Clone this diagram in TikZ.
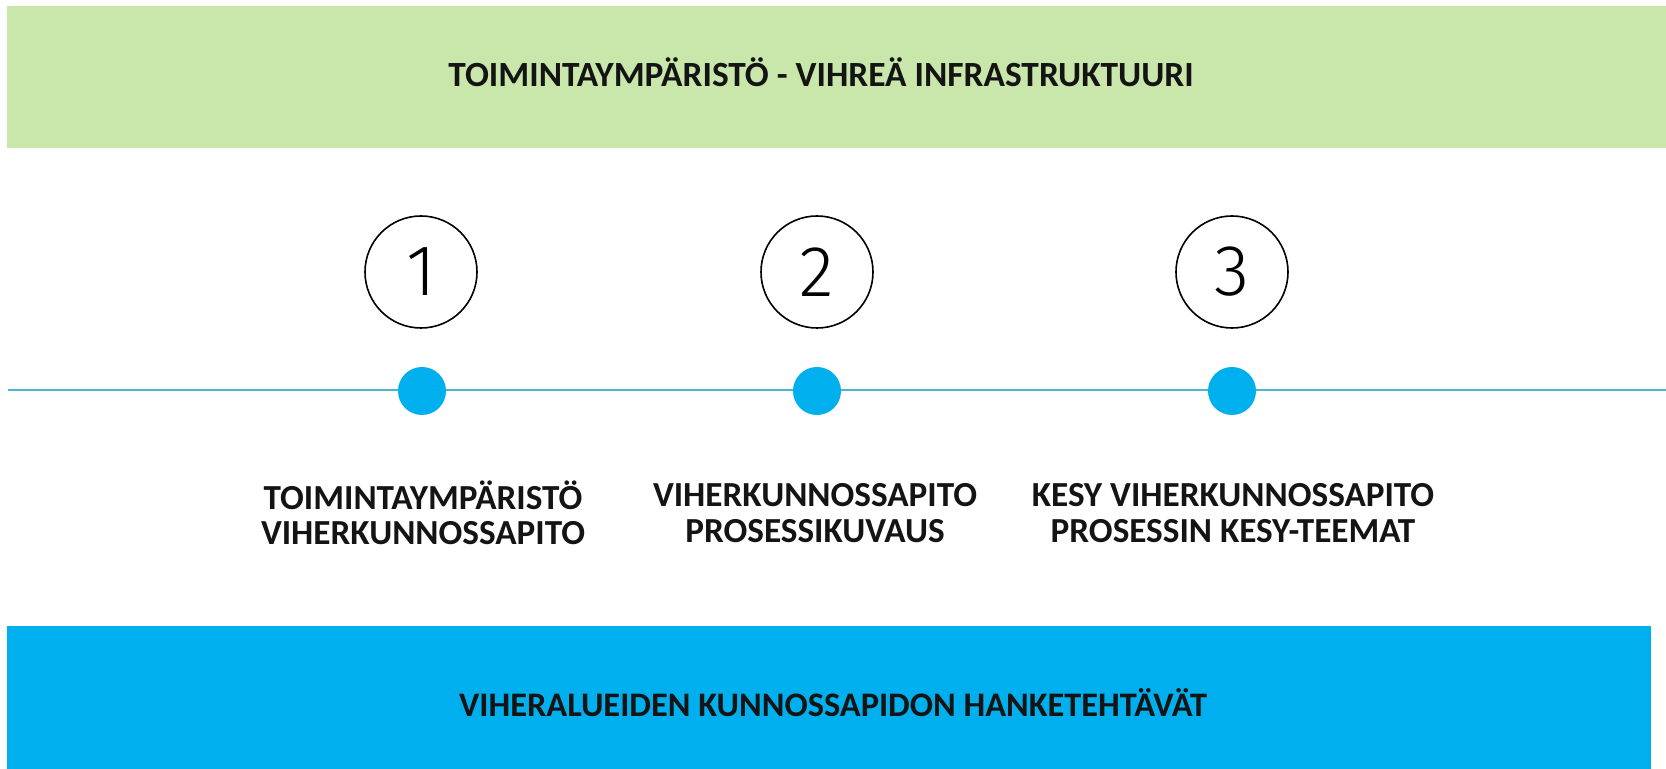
\documentclass[tikz,border=0pt]{standalone}
\usepackage{fontspec}
\setmainfont{Carlito}
\newfontfamily\numfont{Fira Sans Light}
\usepackage{tikz}
\usepackage{xcolor}

\definecolor{bandgreen}{HTML}{C9E6AB}
\definecolor{bandblue}{HTML}{00B0EE}
\definecolor{linecyan}{HTML}{4DB6CC}
\definecolor{textdark}{HTML}{141414}

\begin{document}
\begin{tikzpicture}[x=0.5pt, y=-0.5pt]

        \useasboundingbox (0, 0) rectangle (1666, 769);

        \coordinate(G1) at (7, 6);
        \coordinate(G2) at (1666, 148);
        \coordinate(B1) at (7, 626);
        \coordinate(B2) at (1651, 769);
        \coordinate(L1) at (8, 390);
        \coordinate(L2) at (1666, 390);
        \fill[bandgreen] (G1) rectangle (G2);
        \fill[bandblue] (B1) rectangle (B2);
        \draw[linecyan, line width=0.7pt] (L1) -- (L2);

        \node[textdark, font=\bfseries\fontsize{17.7}{20}\selectfont] (top) at (821, 72) {TOIMINTAYMPÄRISTÖ - VIHREÄ INFRASTRUKTUURI};
        \node[textdark, font=\bfseries\fontsize{17.2}{20}\selectfont] (bottom) at (833, 703) {VIHERALUEIDEN KUNNOSSAPIDON HANKETEHTÄVÄT};

        \node[circle, draw, line width=0.8pt, minimum size=56pt, inner sep=0pt, font=\numfont\fontsize{36}{36}\selectfont] (n1) at (421, 272) {1};
        \node[circle, draw, line width=0.8pt, minimum size=56pt, inner sep=0pt, font=\numfont\fontsize{36}{36}\selectfont] (n2) at (817, 272) {2};
        \node[circle, draw, line width=0.8pt, minimum size=56pt, inner sep=0pt, font=\numfont\fontsize{36}{36}\selectfont] (n3) at (1232, 272) {3};

        \node[circle, fill=bandblue, minimum size=24pt, inner sep=0pt] (d1) at (422, 391) {};
        \node[circle, fill=bandblue, minimum size=24pt, inner sep=0pt] (d2) at (817, 391) {};
        \node[circle, fill=bandblue, minimum size=24pt, inner sep=0pt] (d3) at (1232, 391) {};

        \node[textdark, align=center, font=\bfseries\fontsize{17.6}{17.8}\selectfont] (t1) at (423, 513) {TOIMINTAYMPÄRISTÖ\\VIHERKUNNOSSAPITO};
        \node[textdark, align=center, font=\bfseries\fontsize{17.6}{17.8}\selectfont] (t2) at (815, 513) {VIHERKUNNOSSAPITO\\PROSESSIKUVAUS};
        \node[textdark, align=center, font=\bfseries\fontsize{17.6}{17.8}\selectfont] (t3) at (1233, 513) {KESY VIHERKUNNOSSAPITO\\PROSESSIN KESY-TEEMAT};

    \end{tikzpicture}
\end{document}
